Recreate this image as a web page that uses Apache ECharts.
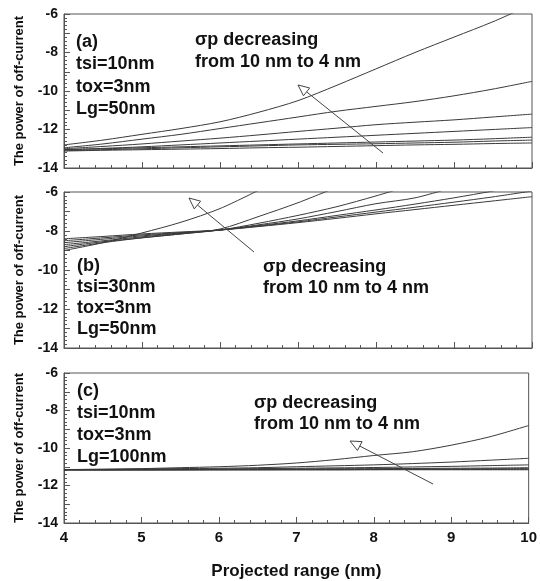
<!DOCTYPE html>
<html><head><meta charset="utf-8">
<script src="https://cdn.jsdelivr.net/npm/echarts@6/dist/echarts.min.js"></script>
<style>html,body{margin:0;padding:0;background:#fff}#c{width:540px;height:581px}</style>
</head><body><div id="c"></div>
<script>
// Projected range (nm)
const xValues = [4, 4.5, 5, 5.5, 6, 6.5, 7, 7.5, 8, 8.5, 9, 9.5, 10];
const yTicks = [-14, -12, -10, -8, -6];
const xTicks = [4, 5, 6, 7, 8, 9, 10];

// Panel (a): tsi=10nm, tox=3nm, Lg=50nm ; sigma_p = 4..10 nm
const a_sp4  = [-12.8, -12.55, -12.25, -11.95, -11.6, -11.1, -10.5, -9.7, -8.85, -8.0, -7.2, -6.4, -5.5];
const a_sp5  = [-12.95, -12.75, -12.5, -12.25, -11.95, -11.65, -11.35, -11.05, -10.8, -10.55, -10.25, -9.9, -9.5];
const a_sp6  = [-13.0, -12.88, -12.75, -12.6, -12.45, -12.28, -12.1, -11.93, -11.75, -11.62, -11.5, -11.35, -11.2];
const a_sp7  = [-13.05, -12.98, -12.9, -12.8, -12.7, -12.6, -12.5, -12.4, -12.3, -12.2, -12.1, -12.0, -11.9];
const a_sp8  = [-13.05, -13.0, -12.95, -12.9, -12.85, -12.8, -12.75, -12.7, -12.65, -12.6, -12.55, -12.48, -12.4];
const a_sp9  = [-13.1, -13.05, -13.0, -12.95, -12.9, -12.85, -12.8, -12.77, -12.74, -12.7, -12.66, -12.6, -12.55];
const a_sp10 = [-13.12, -13.08, -13.05, -13.02, -12.99, -12.95, -12.92, -12.88, -12.84, -12.8, -12.77, -12.73, -12.7];

// Panel (b): tsi=30nm, tox=3nm, Lg=50nm
const b_sp4  = [-9.0, -8.6, -8.1, -7.55, -6.85, -5.9, null, null, null, null, null, null, null];
const b_sp5  = [-8.9, -8.6, -8.35, -8.15, -7.9, -7.25, -6.55, -5.75, null, null, null, null, null];
const b_sp6  = [-8.8, -8.55, -8.35, -8.15, -7.95, -7.6, -7.2, -6.75, -6.2, -5.6, null, null, null];
const b_sp7  = [-8.7, -8.5, -8.3, -8.12, -7.95, -7.68, -7.38, -7.0, -6.6, -6.3, -5.75, null, null];
const b_sp8  = [-8.6, -8.42, -8.25, -8.1, -7.95, -7.72, -7.48, -7.2, -6.92, -6.62, -6.3, -5.95, -5.6];
const b_sp9  = [-8.5, -8.35, -8.2, -8.08, -7.95, -7.75, -7.53, -7.28, -7.03, -6.78, -6.52, -6.25, -5.95];
const b_sp10 = [-8.4, -8.28, -8.15, -8.05, -7.95, -7.77, -7.57, -7.35, -7.12, -6.9, -6.68, -6.46, -6.24];

// Panel (c): tsi=10nm, tox=3nm, Lg=100nm
const c_sp4  = [-11.15, -11.13, -11.1, -11.05, -11.0, -10.92, -10.8, -10.62, -10.4, -10.2, -9.85, -9.4, -8.8];
const c_sp5  = [-11.15, -11.14, -11.12, -11.1, -11.08, -11.05, -11.0, -10.95, -10.9, -10.83, -10.75, -10.65, -10.55];
const c_sp6  = [-11.15, -11.15, -11.14, -11.13, -11.12, -11.1, -11.08, -11.06, -11.04, -11.01, -10.98, -10.94, -10.9];
const c_sp7  = [-11.15, -11.15, -11.15, -11.14, -11.14, -11.13, -11.12, -11.11, -11.1, -11.09, -11.08, -11.07, -11.05];
const c_sp8  = [-11.16, -11.16, -11.15, -11.15, -11.15, -11.14, -11.14, -11.13, -11.13, -11.12, -11.12, -11.11, -11.1];
const c_sp9  = [-11.17, -11.17, -11.17, -11.16, -11.16, -11.16, -11.15, -11.15, -11.15, -11.14, -11.14, -11.14, -11.13];
const c_sp10 = [-11.18, -11.18, -11.18, -11.18, -11.17, -11.17, -11.17, -11.17, -11.16, -11.16, -11.16, -11.16, -11.16];

const panels = [
  [a_sp4, a_sp5, a_sp6, a_sp7, a_sp8, a_sp9, a_sp10],
  [b_sp4, b_sp5, b_sp6, b_sp7, b_sp8, b_sp9, b_sp10],
  [c_sp4, c_sp5, c_sp6, c_sp7, c_sp8, c_sp9, c_sp10]
];
const panelText = [
  ['(a)', 'tsi=10nm', 'tox=3nm', 'Lg=50nm'],
  ['(b)', 'tsi=30nm', 'tox=3nm', 'Lg=50nm'],
  ['(c)', 'tsi=10nm', 'tox=3nm', 'Lg=100nm']
];
const noteText = ['σp decreasing', 'from 10 nm to 4 nm'];
const xTitle = 'Projected range (nm)';
const yTitle = 'The power of off-current';

const FONT = '"Liberation Sans", Arial, sans-serif';
const grids = [
  {left: 64, right: 8, top: 14, height: 154},
  {left: 64, right: 8, top: 192, height: 156},
  {left: 64, right: 8, top: 373, height: 155}
];
const chart = echarts.init(document.getElementById('c'), null, {renderer: 'canvas'});

const xAxes = grids.map((g, i) => ({
  type: 'value', gridIndex: i, min: xTicks[0], max: xTicks[xTicks.length - 1], interval: 1,
  axisLine: {show: true, lineStyle: {color: '#555', width: 1}},
  axisTick: {show: true, inside: true, length: 6, lineStyle: {color: '#555'}},
  minorTick: {show: true, splitNumber: 5, length: 3, lineStyle: {color: '#555'}},
  splitLine: {show: false},
  axisLabel: {show: i === 2, color: '#111', fontWeight: 'bold', fontSize: 15, fontFamily: FONT, margin: 7},
  name: i === 2 ? xTitle : '', nameLocation: 'middle', nameGap: 40,
  nameTextStyle: {color: '#111', fontWeight: 'bold', fontSize: 17, fontFamily: FONT}
}));
const yAxes = grids.map((g, i) => ({
  type: 'value', gridIndex: i, min: yTicks[0], max: yTicks[yTicks.length - 1], interval: 1,
  axisLine: {show: true, lineStyle: {color: '#555', width: 1}},
  axisTick: {show: true, inside: true, length: 6, lineStyle: {color: '#555'}},
  minorTick: {show: true, splitNumber: 5, length: 3, lineStyle: {color: '#555'}},
  splitLine: {show: false},
  axisLabel: {color: '#111', fontWeight: 'bold', fontSize: 14, fontFamily: FONT, margin: 6,
    formatter: v => (yTicks.indexOf(v) >= 0 ? String(v) : '')},
  name: yTitle, nameLocation: 'middle', nameGap: 38, nameRotate: 90,
  nameTextStyle: {color: '#111', fontWeight: 'bold', fontSize: 13, fontFamily: FONT}
}));

const series = [];
panels.forEach((curves, p) => {
  curves.forEach(vals => {
    series.push({
      type: 'line', xAxisIndex: p, yAxisIndex: p, showSymbol: false, smooth: 0.3,
      silent: true, clip: true, connectNulls: false,
      lineStyle: {color: '#3a3a3a', width: 1},
      data: xValues.map((x, k) => [x, vals[k]])
    });
  });
});

// annotation layout (pixels)
const blockPos = [
  {x: 76, y: [42, 64, 87, 109], nx: 195, ny: [40, 62], arrow: [[383, 153], [298, 85]]},
  {x: 77, y: [266, 287, 308, 329], nx: 263, ny: [267, 288], arrow: [[254, 252], [189, 198]]},
  {x: 77, y: [391, 413, 435, 457], nx: 254, ny: [403, 424], arrow: [[433, 484], [350, 441]]}
];
const graphic = [];
blockPos.forEach((b, p) => {
  panelText[p].forEach((t, k) => graphic.push({
    type: 'text', x: b.x, y: b.y[k], z: 100,
    style: {text: t, fill: '#111', font: 'bold 18px ' + FONT, align: 'left', verticalAlign: 'middle'}
  }));
  noteText.forEach((t, k) => graphic.push({
    type: 'text', x: b.nx, y: b.ny[k], z: 100,
    style: {text: t, fill: '#111', font: 'bold 18px ' + FONT, align: 'left', verticalAlign: 'middle'}
  }));
  const [tail, tip] = b.arrow;
  const dx = tip[0] - tail[0], dy = tip[1] - tail[1];
  const L = Math.hypot(dx, dy), ux = dx / L, uy = dy / L;
  const hl = 11, hw = 5;
  const bx = tip[0] - ux * hl, by = tip[1] - uy * hl;
  graphic.push({type: 'line', z: 100, shape: {x1: tail[0], y1: tail[1], x2: bx, y2: by},
    style: {stroke: '#444', lineWidth: 1}});
  graphic.push({type: 'polygon', z: 101,
    shape: {points: [tip, [bx - uy * hw, by + ux * hw], [bx + uy * hw, by - ux * hw]]},
    style: {fill: '#fff', stroke: '#444', lineWidth: 1}});
});

chart.setOption({
  animation: false,
  backgroundColor: '#fff',
  grid: grids.map(g => Object.assign({show: true, borderColor: '#555', borderWidth: 1, backgroundColor: 'transparent'}, g)),
  xAxis: xAxes,
  yAxis: yAxes,
  series: series,
  graphic: graphic
});
</script></body></html>
